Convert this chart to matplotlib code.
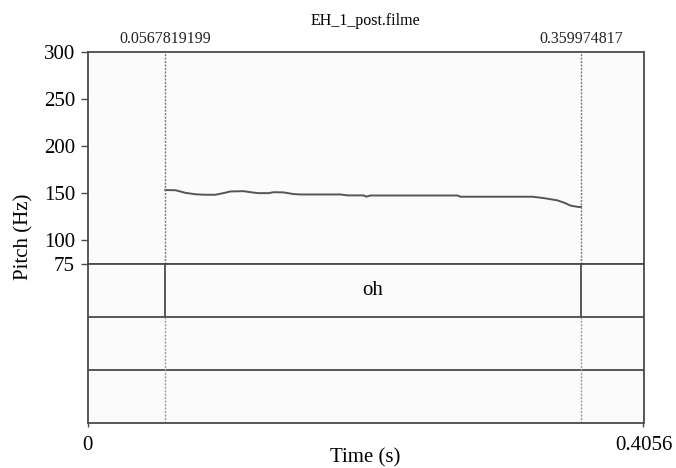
import matplotlib.pyplot as plt

plt.rcParams['font.family'] = ['Liberation Serif', 'DejaVu Serif']

file_name = 'EH_1_post.filme'
t_end = 0.4056
bounds = [0.0567819199, 0.359974817]
seg_label = 'oh'
pitch_ticks = [75, 100, 150, 200, 250, 300]

# pitch contour
time_s = [0.0568, 0.0642, 0.0715, 0.0788, 0.0860, 0.0934, 0.1000, 0.1043,
          0.1138, 0.1200, 0.1247, 0.1320, 0.1357, 0.1430, 0.1500, 0.1554,
          0.1846, 0.1897, 0.2013, 0.2035, 0.2064, 0.2699, 0.2721, 0.3246,
          0.3327, 0.3429, 0.3487, 0.3523, 0.3582, 0.3600]
pitch_hz = [153.5, 153.3, 150.5, 149.0, 148.5, 148.5, 150.5, 152.0,
            152.3, 151.0, 150.2, 150.2, 151.2, 151.0, 149.3, 148.8,
            148.8, 147.8, 147.8, 146.5, 147.7, 147.7, 146.4, 146.4,
            145.0, 142.5, 139.5, 137.0, 135.5, 135.5]

W, H = 676, 468
fig = plt.figure(figsize=(W / 100, H / 100), dpi=100, facecolor='white')
left, right = 87.5, 643.5
top, mid, bot = 52, 264, 423
ax = fig.add_axes([left / W, 1 - mid / H, (right - left) / W, (mid - top) / H])
ax2 = fig.add_axes([left / W, 1 - bot / H, (right - left) / W, (bot - mid) / H])

line_col = '#4a4a4a'
for a in (ax, ax2):
    a.set_facecolor('#fbfbfb')
    a.set_xlim(0, t_end)
    for s in a.spines.values():
        s.set_color(line_col)
        s.set_linewidth(1.3)

# pitch part
ax.plot(time_s, pitch_hz, color='#555555', lw=1.4)
ax.set_ylim(75, 300)
ax.set_yticks(pitch_ticks)
ax.set_yticklabels([str(p) for p in pitch_ticks], fontsize=15)
ax.tick_params(axis='y', direction='out', length=5, width=1, color=line_col, pad=4)
ax.set_xticks([])
for b in bounds:
    ax.axvline(b, color='#777777', lw=1, ls=(0, (1.5, 1)))
    ax.annotate(str(b), xy=(b, 1), xycoords=('data', 'axes fraction'),
                xytext=(0, 9.4), textcoords='offset points',
                ha='center', va='center', fontsize=11.5, color='#222222')

# tier part
ax2.set_ylim(0, 3)
ax2.axhline(1, color=line_col, lw=1.3)
ax2.axhline(2, color=line_col, lw=1.3)
for b in bounds:
    ax2.plot([b, b], [2, 3], color=line_col, lw=1.3)
    ax2.plot([b, b], [0, 2], color='#999999', lw=1, ls=(0, (1.5, 1)))
ax2.text(sum(bounds) / 2, 2.5, seg_label, ha='center', va='center', fontsize=15)
ax2.set_yticks([])
ax2.set_xticks([0, t_end])
ax2.set_xticklabels(['0', f'{t_end:g}'], fontsize=15)
ax2.tick_params(axis='x', direction='out', length=3, width=1, color=line_col, pad=6)

fig.text((left + right) / 2 / W, 1 - 21 / H, file_name, ha='center', va='center', fontsize=11.5)
fig.text(24 / W, 1 - 237 / H, 'Pitch (Hz)', rotation=90, ha='center', va='center', fontsize=15)
fig.text((left + right) / 2 / W, 1 - 458 / H, 'Time (s)', ha='center', va='center', fontsize=15)

fig.savefig('out.png', dpi=100, facecolor='white')
